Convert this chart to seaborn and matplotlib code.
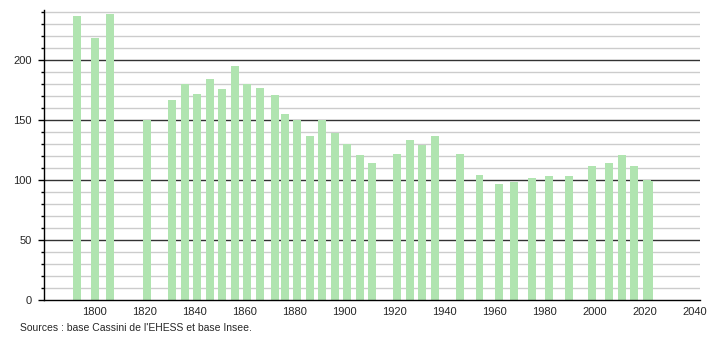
import matplotlib
matplotlib.use("Agg")
import matplotlib.pyplot as plt
import seaborn as sns
import pandas as pd
from matplotlib.ticker import MultipleLocator

years = [1793, 1800, 1806, 1821, 1831, 1836, 1841, 1846, 1851, 1856, 1861, 1866,
         1872, 1876, 1881, 1886, 1891, 1896, 1901, 1906, 1911, 1921, 1926, 1931,
         1936, 1946, 1954, 1962, 1968, 1975, 1982, 1990, 1999, 2006, 2011, 2016,
         2021, 2022]
population = [237, 218, 238, 150, 167, 180, 172, 184, 176, 195, 180, 177,
              171, 155, 150, 137, 150, 139, 130, 121, 114, 122, 133, 129,
              137, 122, 104, 97, 98, 102, 103, 103, 112, 114, 121, 112,
              100, 99]
x_ticks = [1800, 1820, 1840, 1860, 1880, 1900, 1920, 1940, 1960, 1980, 2000, 2020, 2040]
y_ticks = [0, 50, 100, 150, 200]
source_text = "Sources : base Cassini de l'EHESS et base Insee."

sns.set_style("white")
plt.rcParams['font.family'] = ['Liberation Sans', 'DejaVu Sans']

df = pd.DataFrame({"year": years, "pop": population})

fig = plt.figure(figsize=(7.1, 3.4), dpi=100)
ax = fig.add_axes([44/710, 40/340, 656/710, 290/340])

# grid lines
for v in range(10, 250, 10):
    if v % 50 == 0:
        ax.axhline(v, color="#333333", lw=1.0, zorder=1)
    else:
        ax.axhline(v, color="#cccccc", lw=1.0, zorder=1)

sns.barplot(data=df, x="year", y="pop", native_scale=True, width=3.2,
            color="#b0e4b0", saturation=1, edgecolor="none", ax=ax, zorder=2)

ax.set_xlim(1779.6, 2042.3)
ax.set_ylim(0, 241.7)
ax.set_xticks(x_ticks)
ax.set_xticklabels([str(t) for t in x_ticks])
ax.set_yticks(y_ticks)
ax.yaxis.set_minor_locator(MultipleLocator(10))
ax.tick_params(axis="y", which="major", length=4, width=1, color="black",
               labelsize=8, pad=5, left=True)
ax.tick_params(axis="y", which="minor", length=2.5, width=1, color="black", left=True)
ax.tick_params(axis="x", which="both", length=0, labelsize=8, pad=5)
ax.set_xlabel("")
ax.set_ylabel("")
for s in ["top", "right"]:
    ax.spines[s].set_visible(False)
ax.spines["left"].set_color("black")
ax.spines["bottom"].set_color("black")
ax.spines["left"].set_linewidth(1)
ax.spines["bottom"].set_linewidth(1)

fig.text(20/710, 1 - 328/340, source_text, fontsize=7.5, va="center", ha="left")

fig.savefig("out.png", dpi=100)
